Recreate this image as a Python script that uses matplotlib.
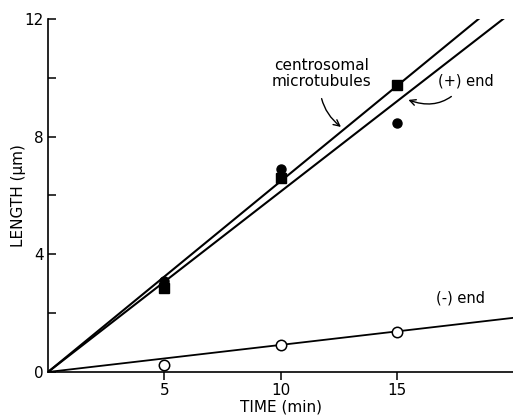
import matplotlib
matplotlib.use("Agg")
import matplotlib.pyplot as plt

# Data
time = [5, 10, 15]
centro_sq = [2.85, 6.6, 9.75]
plus_filled = [3.1, 6.9, 8.45]
minus_open = [0.24, 0.92, 1.36]

line_x = [0, 20]
centro_line = [0, 12.96]
plus_line = [0, 12.26]
minus_line = [0, 1.84]

xticks = [5, 10, 15]
yticks_major = [0, 4, 8, 12]
yticks_minor = [2, 6, 10]

plt.rcParams['font.family'] = ['DejaVu Sans']

fig = plt.figure(figsize=(5.13, 4.19), dpi=100)
ax = fig.add_axes([48/513, 1-372/419, 1-48/513, (372-19)/419])

ax.plot(line_x, centro_line, color='black', lw=1.5, solid_capstyle='butt')
ax.plot(line_x, plus_line, color='black', lw=1.5)
ax.plot(line_x, minus_line, color='black', lw=1.3)

ax.plot(time, centro_sq, 's', color='black', ms=7)
ax.plot(time, plus_filled, 'o', color='black', ms=6.5)
ax.plot(time, minus_open, 'o', mfc='white', mec='black', ms=7.5, mew=1.1)

ax.set_xlim(0, 20)
ax.set_ylim(0, 12)
ax.spines['top'].set_visible(False)
ax.spines['right'].set_visible(False)
ax.spines['left'].set_linewidth(1.2)
ax.spines['bottom'].set_linewidth(1.2)

ax.set_xticks(xticks)
ax.set_xticklabels([str(t) for t in xticks], fontsize=11)
ax.set_yticks(yticks_major)
ax.set_yticklabels([str(t) for t in yticks_major], fontsize=11)
ax.set_yticks(yticks_minor, minor=True)
ax.tick_params(axis='x', direction='out', length=6, width=1.1, pad=2)
ax.tick_params(axis='y', direction='in', length=6, width=1.1, pad=3)
ax.tick_params(axis='y', which='minor', direction='in', length=6, width=1.1)

ax.set_xlabel('TIME (min)', fontsize=11, labelpad=1)
ax.set_ylabel('LENGTH (μm)', fontsize=11, labelpad=-1)

ax.annotate('centrosomal\nmicrotubules', xy=(12.6, 8.33), xytext=(11.75, 10.14),
            ha='center', va='center', fontsize=11, linespacing=1.05,
            arrowprops=dict(arrowstyle='->', color='black', lw=1.0,
                            connectionstyle='arc3,rad=0.3', shrinkA=5, shrinkB=0))
ax.annotate('(+) end', xy=(15.5, 9.25), xytext=(17.97, 9.9),
            ha='center', va='center', fontsize=10.5,
            arrowprops=dict(arrowstyle='->', color='black', lw=1.0,
                            connectionstyle='arc3,rad=-0.4', shrinkA=6, shrinkB=0))
ax.text(17.76, 2.52, '(-) end', ha='center', va='center', fontsize=10.5)

fig.savefig('out.png', dpi=100)
